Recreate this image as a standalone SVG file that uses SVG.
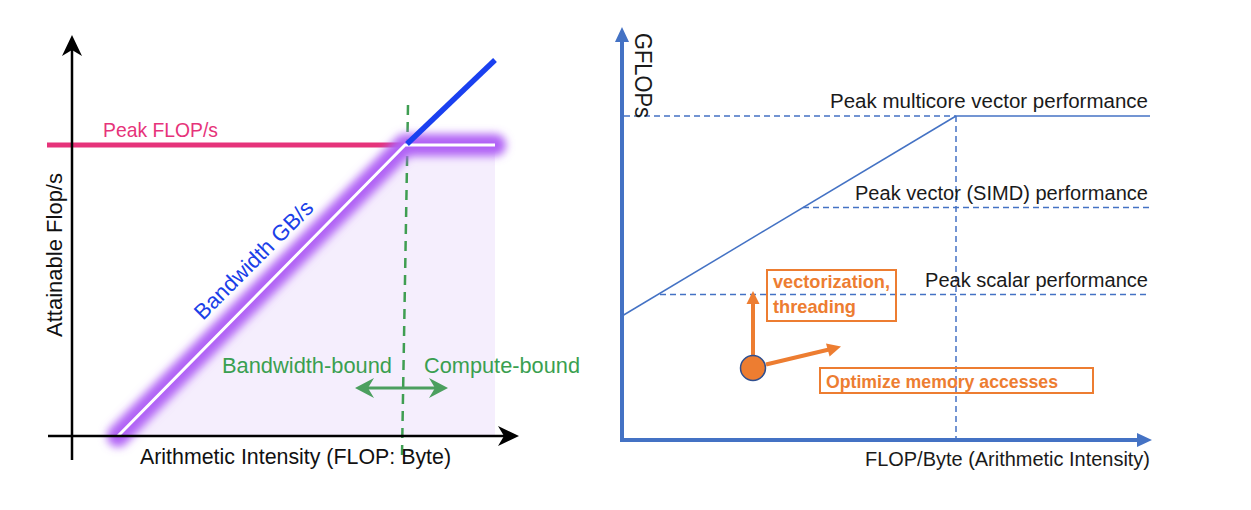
<svg xmlns="http://www.w3.org/2000/svg" width="1251" height="510" viewBox="0 0 1251 510">
<defs>
<style>
text{font-family:"Liberation Sans",Arial,sans-serif;}
.lbl{font-size:22px;fill:#111;}
.rlbl{font-size:20px;fill:#1a1a1a;}
.grn{font-size:22px;fill:#3a9f50;}
.org{font-size:18.5px;font-weight:bold;fill:#ed7d31;}
.bdash{stroke:#4472c4;stroke-width:1.5;stroke-dasharray:6 4;fill:none;}
.box{fill:none;stroke:#ed7d31;stroke-width:2;}
</style>
<filter id="glow" x="-20%" y="-20%" width="140%" height="140%">
<feGaussianBlur stdDeviation="4"/>
</filter>
</defs>
<rect width="1251" height="510" fill="#ffffff"/>

<!-- LEFT CHART -->
<g id="left-chart">
<polygon id="fill-region" points="118,436 405,145 495,145 495,436" fill="#f5eefd"/>
<line id="peak-flops-line" x1="47" y1="145" x2="405" y2="145" stroke="#e6337a" stroke-width="5"/>
<line id="ridge-dashed" x1="408" y1="105" x2="402" y2="455" stroke="#3f9e52" stroke-width="2.5" stroke-dasharray="10 7"/>
<path id="glow-roof" d="M118,436 L405,145 L495,145" fill="none" stroke="#b062f5" stroke-width="22" stroke-linecap="round" stroke-linejoin="round" filter="url(#glow)"/>
<path id="roof-white" d="M118,436 L405,145 L495,145" fill="none" stroke="#ffffff" stroke-width="3"/>
<line id="bw-extension" x1="407" y1="144" x2="495" y2="60" stroke="#1a40f0" stroke-width="5.5"/>
<g id="left-axes">
<line x1="72" y1="460" x2="72" y2="45" stroke="#000" stroke-width="2.5"/>
<polygon points="72,35 62,56 72,50 82,56" fill="#000"/>
<line x1="48" y1="436" x2="508" y2="436" stroke="#000" stroke-width="2.5"/>
<polygon points="519,436 498,426 504,436 498,446" fill="#000"/>
</g>
<g id="bound-arrow">
<line x1="362" y1="388" x2="441" y2="388" stroke="#4c9f5f" stroke-width="3"/>
<polygon points="355,388 374,378 368,388 374,398" fill="#4c9f5f"/>
<polygon points="448,388 429,378 435,388 429,398" fill="#4c9f5f"/>
</g>
<text id="lbl-peak-flops" x="103" y="137" font-size="21" fill="#e6337a" textLength="115" lengthAdjust="spacingAndGlyphs">Peak FLOP/s</text>
<text id="lbl-bw" transform="translate(203,321) rotate(-45)" font-size="22" fill="#1a40e8" textLength="158" lengthAdjust="spacingAndGlyphs">Bandwidth GB/s</text>
<text id="lbl-bw-bound" class="grn" x="222" y="373" textLength="170" lengthAdjust="spacingAndGlyphs">Bandwidth-bound</text>
<text id="lbl-compute-bound" class="grn" x="424" y="373" textLength="156" lengthAdjust="spacingAndGlyphs">Compute-bound</text>
<text id="lbl-left-y" class="lbl" transform="translate(62,337) rotate(-90)" textLength="164" lengthAdjust="spacingAndGlyphs">Attainable Flop/s</text>
<text id="lbl-left-x" class="lbl" x="140" y="464" textLength="311" lengthAdjust="spacingAndGlyphs">Arithmetic Intensity (FLOP: Byte)</text>
</g>

<!-- RIGHT CHART -->
<g id="right-chart">
<g id="right-lines">
<line class="bdash" x1="624" y1="116" x2="956" y2="116"/>
<line x1="956" y1="116" x2="1150" y2="116" stroke="#4472c4" stroke-width="1.5"/>
<line class="bdash" x1="956" y1="116" x2="956" y2="440"/>
<line x1="622" y1="316" x2="956" y2="116" stroke="#4472c4" stroke-width="1.5"/>
<line class="bdash" x1="803" y1="207.5" x2="1150" y2="207.5"/>
<line class="bdash" x1="660" y1="294.5" x2="1150" y2="294.5"/>
</g>
<g id="right-axes">
<line x1="622" y1="442" x2="622" y2="40" stroke="#4472c4" stroke-width="4"/>
<polygon points="622,27 615,42 629,42" fill="#4472c4"/>
<line x1="620" y1="440" x2="1138" y2="440" stroke="#4472c4" stroke-width="4"/>
<polygon points="1152,440 1137,433 1137,447" fill="#4472c4"/>
</g>
<text id="lbl-gflops" transform="translate(635,33) rotate(90)" font-size="24" fill="#1a1a1a" textLength="85" lengthAdjust="spacingAndGlyphs">GFLOPs</text>
<text id="lbl-multicore" class="rlbl" x="830" y="108" textLength="318" lengthAdjust="spacingAndGlyphs">Peak multicore vector performance</text>
<text id="lbl-simd" class="rlbl" x="855" y="200" textLength="293" lengthAdjust="spacingAndGlyphs">Peak vector (SIMD) performance</text>
<text id="lbl-scalar" class="rlbl" x="925" y="287" textLength="223" lengthAdjust="spacingAndGlyphs">Peak scalar performance</text>
<text id="lbl-right-x" class="rlbl" x="865" y="466" textLength="285" lengthAdjust="spacingAndGlyphs">FLOP/Byte (Arithmetic Intensity)</text>

<g id="node-vectorization">
<rect class="box" x="767" y="270" width="129" height="51"/>
<text class="org" x="773" y="288" textLength="117" lengthAdjust="spacingAndGlyphs">vectorization,</text>
<text class="org" x="773" y="313" textLength="83" lengthAdjust="spacingAndGlyphs">threading</text>
</g>
<g id="node-memory">
<rect class="box" x="820" y="368" width="273" height="25"/>
<text class="org" x="826" y="388" textLength="232" lengthAdjust="spacingAndGlyphs">Optimize memory accesses</text>
</g>
<g id="connectors">
<line x1="753" y1="355" x2="753" y2="302" stroke="#ed7d31" stroke-width="4"/>
<polygon points="753,291 746.5,304 759.5,304" fill="#ed7d31"/>
<line x1="766" y1="364.5" x2="829" y2="349.5" stroke="#ed7d31" stroke-width="4"/>
<polygon points="841,346.5 829.6,356.5 826,343.5" fill="#ed7d31"/>
</g>
<g id="node-point">
<circle cx="753" cy="368" r="12.5" fill="#ed7d31" stroke="#2f4f8f" stroke-width="1.5"/>
</g>
</g>
</svg>
